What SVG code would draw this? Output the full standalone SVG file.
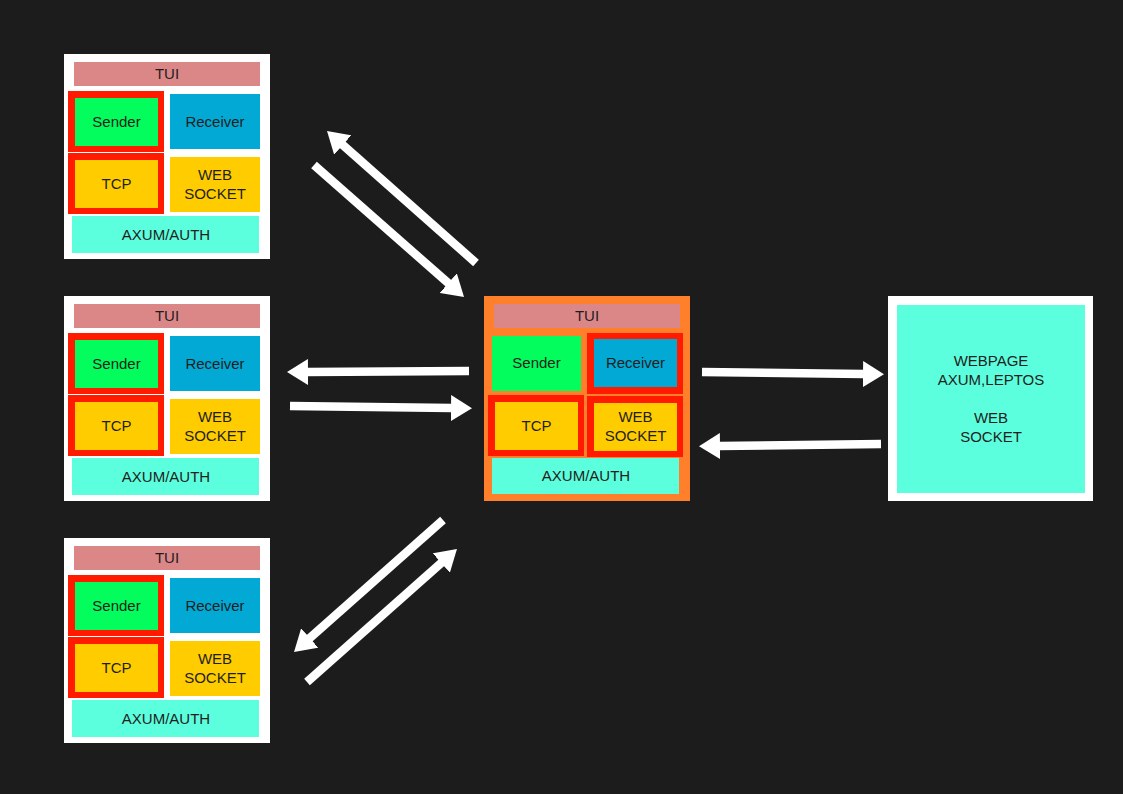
<svg xmlns="http://www.w3.org/2000/svg" width="1123" height="794" viewBox="0 0 1123 794">
<style>
.bg{fill:#1c1c1c}
.frame{fill:#ffffff}
.tui{fill:#dc8787}
.snd{fill:#02fd5c}
.rcv{fill:#02a9d4}
.yel{fill:#ffcc00}
.aq{fill:#5cffdd}
.red{fill:#ff1a00}
.org{fill:#ff7f2a}
text{font-family:"Liberation Sans",Arial,sans-serif;font-size:15px;fill:#1e1e1e;text-anchor:middle}
.arr{stroke:#ffffff;stroke-width:8.5;fill:none;marker-end:url(#ah)}
</style>
<defs>
<marker id="ah" markerUnits="userSpaceOnUse" markerWidth="21" markerHeight="26" viewBox="0 0 21 26" refX="1" refY="13" orient="auto">
<path d="M0,0 L21,13 L0,26 z" fill="#ffffff"/>
</marker>
<g id="client">
<rect class="frame" x="64" y="54" width="206" height="205"/>
<rect class="tui" x="74" y="62" width="186" height="24"/>
<text x="167" y="79">TUI</text>
<rect class="red" x="68" y="91" width="96" height="61"/>
<rect class="snd" x="75" y="98" width="83" height="48"/>
<text x="116.5" y="127">Sender</text>
<rect class="rcv" x="170" y="94" width="90" height="55"/>
<text x="215" y="127">Receiver</text>
<rect class="red" x="68" y="153" width="96" height="61"/>
<rect class="yel" x="75" y="160" width="83" height="48"/>
<text x="116.5" y="189">TCP</text>
<rect class="yel" x="170" y="157" width="90" height="55"/>
<text x="215" y="180">WEB</text>
<text x="215" y="199">SOCKET</text>
<rect class="aq" x="72" y="216" width="187" height="37"/>
<text x="166" y="240">AXUM/AUTH</text>
</g>
</defs>
<rect class="bg" x="0" y="0" width="1123" height="794"/>
<g id="client1"><use href="#client"/></g>
<g id="client2"><use href="#client" transform="translate(0,242)"/></g>
<g id="client3"><use href="#client" transform="translate(0,484)"/></g>
<g id="server">
<rect class="org" x="484" y="296" width="206" height="205"/>
<rect class="tui" x="494" y="304" width="186" height="24"/>
<text x="587" y="321">TUI</text>
<rect class="snd" x="492" y="336" width="89" height="55"/>
<text x="536.5" y="368">Sender</text>
<rect class="red" x="587" y="333" width="96" height="61"/>
<rect class="rcv" x="594" y="339" width="83" height="48"/>
<text x="635.5" y="368">Receiver</text>
<rect class="red" x="488" y="395" width="96" height="61"/>
<rect class="yel" x="495" y="402" width="83" height="48"/>
<text x="536.5" y="431">TCP</text>
<rect class="red" x="587" y="396" width="96" height="61"/>
<rect class="yel" x="594" y="403" width="83" height="48"/>
<text x="635.5" y="422">WEB</text>
<text x="635.5" y="441">SOCKET</text>
<rect class="aq" x="492" y="458" width="187" height="36"/>
<text x="586" y="481">AXUM/AUTH</text>
</g>
<g id="webpage">
<rect class="frame" x="888" y="296" width="205" height="205"/>
<rect class="aq" x="897" y="305" width="188" height="188"/>
<text x="991" y="366">WEBPAGE</text>
<text x="991" y="385">AXUM,LEPTOS</text>
<text x="991" y="423">WEB</text>
<text x="991" y="442">SOCKET</text>
</g>
<g id="connectors">
<line class="arr" x1="476" y1="263" x2="342" y2="144.3"/>
<line class="arr" x1="314" y1="165" x2="449" y2="283.8"/>
<line class="arr" x1="469" y1="371" x2="307" y2="372"/>
<line class="arr" x1="290" y1="406" x2="452" y2="408"/>
<line class="arr" x1="702" y1="372" x2="864" y2="374"/>
<line class="arr" x1="881" y1="444" x2="719" y2="446"/>
<line class="arr" x1="443" y1="520" x2="309" y2="638.7"/>
<line class="arr" x1="307" y1="682" x2="442" y2="562.3"/>
</g>
</svg>
